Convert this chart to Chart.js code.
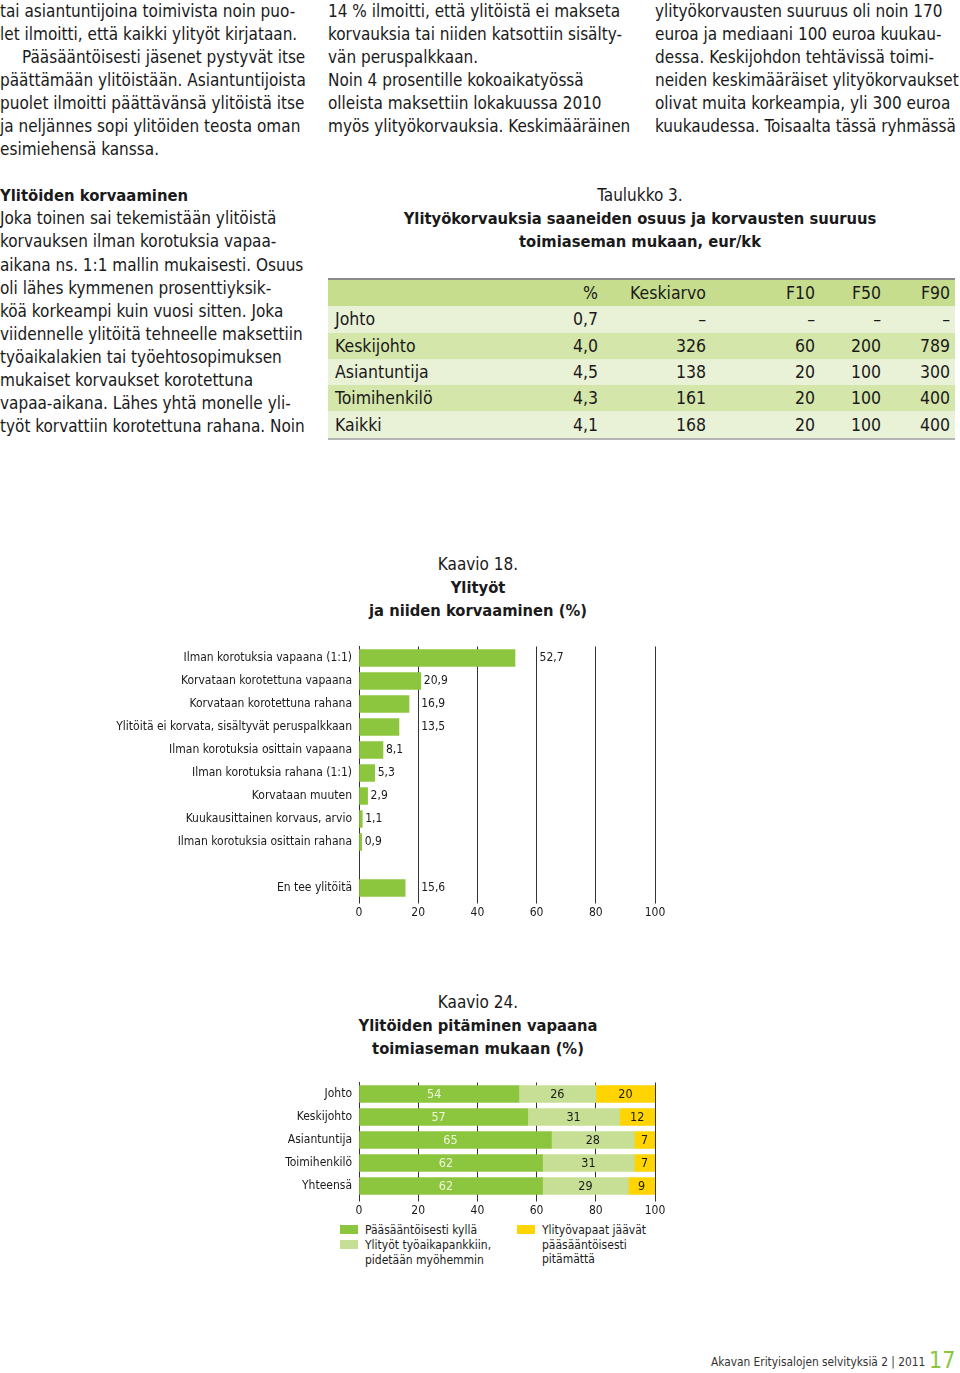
<!DOCTYPE html>
<html>
<head>
<meta charset="utf-8">
<script src="https://cdn.jsdelivr.net/npm/chart.js@4.4.0/dist/chart.umd.min.js"></script>
<style>
  body { margin: 0; background: #fff; color: #1a1a1a; font-family: 'DejaVu Sans Condensed', 'DejaVu Sans', sans-serif; }
  .page { position: relative; width: 960px; height: 1373px; overflow: hidden; }
  .col { position: absolute; top: 0; font-size: 17px; line-height: 23.05px; white-space: nowrap; }
  .col b { font-weight: bold; font-size: 16.5px; }
  .ind { padding-left: 22px; }
  .ttl { position: absolute; width: 500px; text-align: center; font-size: 17px; line-height: 23px; white-space: nowrap; }
  .ttl b { font-weight: bold; font-size: 16.4px; }
  table.t { position: absolute; left: 328px; top: 278px; width: 627px; border-collapse: collapse; table-layout: fixed;
            font-size: 17.5px; border-top: 2px solid #8a8a8a; border-bottom: 2px solid #b5b5b5; }
  table.t td { height: 26.3px; padding: 0 5px; text-align: right; white-space: nowrap; }
  table.t td:first-child { text-align: left; padding-left: 7px; }
  table.t tr.h td { background: #c6dd8e; }
  table.t tr.l td { background: #e9f1d7; }
  table.t tr.d td { background: #d4e6aa; }
  canvas { position: absolute; left: 0; }
  .lg { position: absolute; font-size: 12px; line-height: 14.5px; white-space: nowrap; }
  .sw { position: absolute; width: 18px; height: 9px; }
  .foot { position: absolute; left: 711px; top: 1355px; font-size: 11.8px; color: #333; white-space: nowrap; }
  .pg { position: absolute; left: 929px; top: 1347px; font-size: 23px; color: #8cc63f; }
</style>
</head>
<body>
<div class="page">

<div class="col" style="left:0">
  <div>tai asiantuntijoina toimivista noin puo-</div>
  <div>let ilmoitti, että kaikki ylityöt kirjataan.</div>
  <div class="ind">Pääsääntöisesti jäsenet pystyvät itse</div>
  <div>päättämään ylitöistään. Asiantuntijoista</div>
  <div>puolet ilmoitti päättävänsä ylitöistä itse</div>
  <div>ja neljännes sopi ylitöiden teosta oman</div>
  <div>esimiehensä kanssa.</div>
  <div>&nbsp;</div>
  <div><b>Ylitöiden korvaaminen</b></div>
  <div>Joka toinen sai tekemistään ylitöistä</div>
  <div>korvauksen ilman korotuksia vapaa-</div>
  <div>aikana ns. 1:1 mallin mukaisesti. Osuus</div>
  <div>oli lähes kymmenen prosenttiyksik-</div>
  <div>köä korkeampi kuin vuosi sitten. Joka</div>
  <div>viidennelle ylitöitä tehneelle maksettiin</div>
  <div>työaikalakien tai työehtosopimuksen</div>
  <div>mukaiset korvaukset korotettuna</div>
  <div>vapaa-aikana. Lähes yhtä monelle yli-</div>
  <div>työt korvattiin korotettuna rahana. Noin</div>
</div>

<div class="col" style="left:328px">
  <div>14 % ilmoitti, että ylitöistä ei makseta</div>
  <div>korvauksia tai niiden katsottiin sisälty-</div>
  <div>vän peruspalkkaan.</div>
  <div>Noin 4 prosentille kokoaikatyössä</div>
  <div>olleista maksettiin lokakuussa 2010</div>
  <div>myös ylityökorvauksia. Keskimääräinen</div>
</div>

<div class="col" style="left:655px">
  <div>ylityökorvausten suuruus oli noin 170</div>
  <div>euroa ja mediaani 100 euroa kuukau-</div>
  <div>dessa. Keskijohdon tehtävissä toimi-</div>
  <div>neiden keskimääräiset ylityökorvaukset</div>
  <div>olivat muita korkeampia, yli 300 euroa</div>
  <div>kuukaudessa. Toisaalta tässä ryhmässä</div>
</div>

<div class="ttl" style="left:390px; top:184px">
  <div>Taulukko 3.</div>
  <div><b>Ylityökorvauksia saaneiden osuus ja korvausten suuruus</b></div>
  <div><b>toimiaseman mukaan, eur/kk</b></div>
</div>

<table class="t" id="tbl">
  <colgroup><col style="width:212px"><col style="width:63px"><col style="width:108px"><col style="width:109px"><col style="width:66px"><col style="width:69px"></colgroup>
</table>

<div class="ttl" style="left:228px; top:553px">
  <div>Kaavio 18.</div>
  <div><b>Ylityöt</b></div>
  <div><b>ja niiden korvaaminen (%)</b></div>
</div>
<canvas id="c18" width="720" height="299" style="top:631px"></canvas>

<div class="ttl" style="left:228px; top:991px">
  <div>Kaavio 24.</div>
  <div><b>Ylitöiden pitäminen vapaana</b></div>
  <div><b>toimiaseman mukaan (%)</b></div>
</div>
<canvas id="c24" width="720" height="153" style="top:1067px"></canvas>

<div class="sw" style="left:340px; top:1225px; background:#8cc63f"></div>
<div class="lg" style="left:365px; top:1223px">Pääsääntöisesti kyllä</div>
<div class="sw" style="left:340px; top:1240px; background:#c6df95"></div>
<div class="lg" style="left:365px; top:1238px">Ylityöt työaikapankkiin,<br>pidetään myöhemmin</div>
<div class="sw" style="left:517px; top:1225px; background:#ffd400"></div>
<div class="lg" style="left:542px; top:1223px">Ylityövapaat jäävät<br>pääsääntöisesti<br>pitämättä</div>

<div class="foot">Akavan Erityisalojen selvityksiä 2 | 2011</div>
<div class="pg">17</div>
</div>

<script>
// Taulukko 3
const tableHead = ['', '%', 'Keskiarvo', 'F10', 'F50', 'F90'];
const tableRows = ['Johto', 'Keskijohto', 'Asiantuntija', 'Toimihenkilö', 'Kaikki'];
const tablePct = ['0,7', '4,0', '4,5', '4,3', '4,1'];
const tableMean = ['–', '326', '138', '161', '168'];
const tableF10 = ['–', '60', '20', '20', '20'];
const tableF50 = ['–', '200', '100', '100', '100'];
const tableF90 = ['–', '789', '300', '400', '400'];

// Kaavio 18
const cat18 = ['Ilman korotuksia vapaana (1:1)', 'Korvataan korotettuna vapaana', 'Korvataan korotettuna rahana',
  'Ylitöitä ei korvata, sisältyvät peruspalkkaan', 'Ilman korotuksia osittain vapaana', 'Ilman korotuksia rahana (1:1)',
  'Korvataan muuten', 'Kuukausittainen korvaus, arvio', 'Ilman korotuksia osittain rahana', '', 'En tee ylitöitä'];
const val18 = [52.7, 20.9, 16.9, 13.5, 8.1, 5.3, 2.9, 1.1, 0.9, null, 15.6];

// Kaavio 24
const cat24 = ['Johto', 'Keskijohto', 'Asiantuntija', 'Toimihenkilö', 'Yhteensä'];
const kylla24 = [54, 57, 65, 62, 62];
const pankki24 = [26, 31, 28, 31, 29];
const pitamatta24 = [20, 12, 7, 7, 9];

const xTicks = [0, 20, 40, 60, 80, 100];

const tbl = document.getElementById('tbl');
function addRow(cls, cells) {
  const tr = document.createElement('tr');
  tr.className = cls;
  cells.forEach(c => { const td = document.createElement('td'); td.textContent = c; tr.appendChild(td); });
  tbl.appendChild(tr);
}
addRow('h', tableHead);
tableRows.forEach((r, i) => addRow(i % 2 ? 'd' : 'l', [r, tablePct[i], tableMean[i], tableF10[i], tableF50[i], tableF90[i]]));

const FONT = "'DejaVu Sans Condensed', 'DejaVu Sans', sans-serif";
Chart.defaults.font.family = FONT;
Chart.defaults.color = '#1a1a1a';

const fmt = v => (Number.isInteger(v) ? String(v) : v.toFixed(1).replace('.', ','));

// labels right of the bar, pushed past a gridline if they would cross it
const outsideLabels = {
  id: 'outsideLabels',
  afterDatasetsDraw(chart) {
    const { ctx, scales: { x } } = chart;
    const grid = xTicks.map(t => x.getPixelForValue(t));
    ctx.save();
    ctx.font = '12px ' + FONT;
    ctx.fillStyle = '#1a1a1a';
    ctx.textBaseline = 'middle';
    chart.getDatasetMeta(0).data.forEach((bar, i) => {
      const v = val18[i];
      if (v == null) return;
      const txt = fmt(v);
      const w = ctx.measureText(txt).width;
      let x0 = bar.x + 3;
      grid.forEach(g => { if (g >= x0 - 1 && g <= x0 + w + 1) x0 = g + 3; });
      ctx.fillText(txt, x0, bar.y);
    });
    ctx.restore();
  }
};

// labels centred in each stacked segment
const insideLabels = {
  id: 'insideLabels',
  afterDatasetsDraw(chart) {
    const { ctx } = chart;
    ctx.save();
    ctx.font = '12.5px ' + FONT;
    ctx.textAlign = 'center';
    ctx.textBaseline = 'middle';
    chart.data.datasets.forEach((ds, di) => {
      ctx.fillStyle = di === 0 ? '#eef6dc' : '#1a1a1a';
      chart.getDatasetMeta(di).data.forEach((bar, i) => {
        const cx = (bar.base + bar.x) / 2 - (di === 0 ? 5 : 0);
        ctx.fillText(fmt(ds.data[i]), cx, bar.y + 1);
      });
    });
    ctx.restore();
  }
};

function xScale(stacked) {
  return {
    min: 0, max: 100, stacked,
    afterBuildTicks: s => { s.ticks = xTicks.map(v => ({ value: v })); },
    afterFit: s => { s.height = 20; },
    grid: { color: '#333', lineWidth: 1, tickLength: 4 },
    border: { display: false },
    ticks: { padding: 2, font: { size: 12 }, color: '#1a1a1a' }
  };
}
function yScale(stacked) {
  return {
    stacked,
    afterFit: s => { s.width = 359; },
    grid: { display: false, drawTicks: false },
    border: { display: true, color: '#333', width: 1 },
    ticks: { padding: 7, font: { size: 12 }, color: '#1a1a1a', autoSkip: false }
  };
}

new Chart(document.getElementById('c18'), {
  type: 'bar',
  data: {
    labels: cat18,
    datasets: [{ data: val18, backgroundColor: '#8cc63f', barThickness: 17 }]
  },
  options: {
    indexAxis: 'y',
    responsive: false,
    animation: false,
    devicePixelRatio: 1,
    layout: { padding: { top: 15.5, bottom: 10.5, left: 0, right: 65 } },
    plugins: { legend: { display: false }, tooltip: { enabled: false } },
    scales: { x: xScale(false), y: yScale(false) }
  },
  plugins: [outsideLabels]
});

new Chart(document.getElementById('c24'), {
  type: 'bar',
  data: {
    labels: cat24,
    datasets: [
      { label: 'Pääsääntöisesti kyllä', data: kylla24, backgroundColor: '#8cc63f', barThickness: 17 },
      { label: 'Ylityöt työaikapankkiin, pidetään myöhemmin', data: pankki24, backgroundColor: '#c6df95', barThickness: 17 },
      { label: 'Ylityövapaat jäävät pääsääntöisesti pitämättä', data: pitamatta24, backgroundColor: '#ffd400', barThickness: 17 }
    ]
  },
  options: {
    indexAxis: 'y',
    responsive: false,
    animation: false,
    devicePixelRatio: 1,
    layout: { padding: { top: 15.5, bottom: 2.5, left: 0, right: 65 } },
    plugins: { legend: { display: false }, tooltip: { enabled: false } },
    scales: { x: xScale(true), y: yScale(true) }
  },
  plugins: [insideLabels]
});
</script>
</body>
</html>
